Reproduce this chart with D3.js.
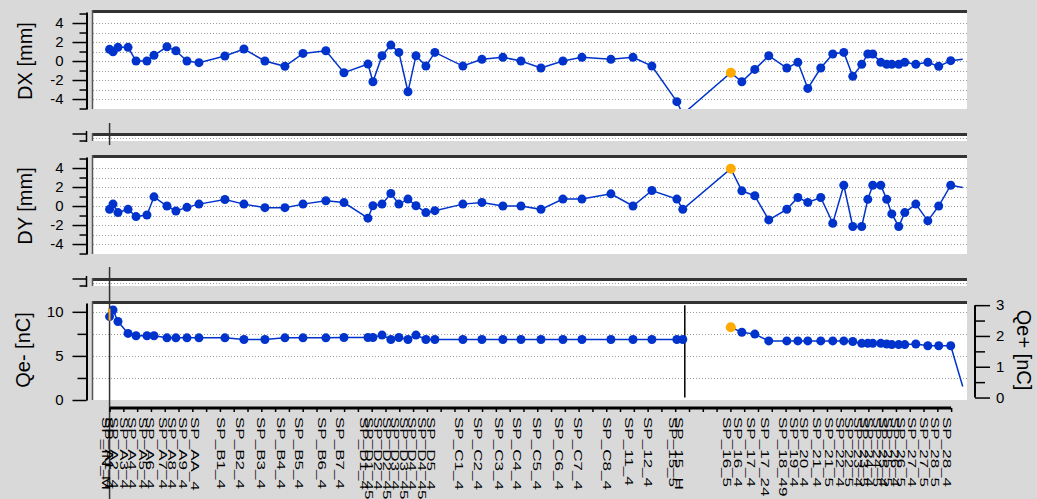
<!DOCTYPE html>
<html>
<head>
<meta charset="utf-8">
<script src="https://cdn.jsdelivr.net/npm/d3@7"></script>
<style>
  html, body { margin: 0; padding: 0; background: #d9d9d9; }
  svg { display: block; font-family: "Liberation Sans", Arial, sans-serif; }
</style>
</head>
<body>
<svg id="chart" width="1037" height="499"></svg>
<script>
// ---- data -------------------------------------------------------------
// position of each sample along the line (axis units)
const positions = [
  0.00, 0.25, 0.61, 1.34, 1.92, 2.71, 3.22, 4.16, 4.81, 5.61, 6.48,
  8.36, 9.74, 11.26, 12.71, 14.02, 15.68, 16.99,
  18.73, 19.09, 19.75, 20.39, 20.97, 21.63, 22.21, 22.93, 23.58,
  25.61, 26.99, 28.51, 29.82, 31.27, 32.86, 34.24, 36.34, 37.94, 39.31, 41.12, 41.55,
  45.03, 45.83, 46.77, 47.78, 49.09, 49.89, 50.61, 51.55, 52.42, 53.22, 53.87, 54.52,
  54.96, 55.32, 55.90, 56.33, 56.70, 57.20, 57.64, 58.44, 59.31, 60.10, 60.97, 61.84
];
const sampleLabels = [
  "SP_IN_M", "SP_A1_4", "SP_A2_4", "SP_A3_4", "SP_A4_4", "SP_A5_4", "SP_A6_4", "SP_A7_4", "SP_A8_4", "SP_A9_4", "SP_AA_4",
  "SP_B1_4", "SP_B2_4", "SP_B3_4", "SP_B4_4", "SP_B5_4", "SP_B6_4", "SP_B7_4",
  "SP_D1_4", "SP_D1_45", "SP_D2_4", "SP_D2_45", "SP_D3_4", "SP_D3_45", "SP_D4_4", "SP_D4_45", "SP_D5_4",
  "SP_C1_4", "SP_C2_4", "SP_C3_4", "SP_C4_4", "SP_C5_4", "SP_C6_4", "SP_C7_4", "SP_C8_4", "SP_11_4", "SP_12_4", "SP_15_5", "SP_15_H",
  "SP_16_5", "SP_16_4", "SP_17_4", "SP_17_24", "SP_18_49", "SP_19_4", "SP_20_4", "SP_21_4", "SP_21_5", "SP_22_4", "SP_22_5", "SP_23_4",
  "SP_23_5", "SP_24_4", "SP_24_5", "SP_25_4", "SP_25_5", "SP_26_4", "SP_26_5", "SP_27_4", "SP_27_5", "SP_28_5", "SP_28_4", ""
];
// horizontal offset [mm]
const dxValues = [
  1.23, 0.98, 1.44, 1.44, 0.0, 0.0, 0.6, 1.5, 1.08, 0.0, -0.17,
  0.53, 1.26, 0.0, -0.56, 0.8, 1.08, -1.23,
  -0.32, -2.18, 0.56, 1.68, 0.91, -3.23, 0.56, -0.53, 0.91,
  -0.53, 0.18, 0.39, 0.0, -0.74, 0.0, 0.39, 0.18, 0.39, -0.53, -4.28, -5.6,
  -1.23, -2.18, -0.88, 0.56, -0.74, -0.14, -2.88, -0.74, 0.74, 0.91, -1.61, -0.35,
  0.74, 0.74, -0.14, -0.35, -0.35, -0.35, -0.14, -0.35, -0.14, -0.56, 0.04, 0.18
];
// vertical offset [mm]
const dyValues = [
  -0.35, 0.2, -0.69, -0.35, -1.11, -0.94, 0.97, 0.0, -0.52, -0.14, 0.2,
  0.69, 0.2, -0.17, -0.17, 0.2, 0.56, 0.36,
  -1.28, 0.03, 0.2, 1.32, 0.2, 0.73, 0.03, -0.69, -0.49,
  0.2, 0.38, 0.0, 0.0, -0.35, 0.73, 0.73, 1.28, 0.0, 1.63, 0.73, -0.35,
  3.92, 1.6, 1.08, -1.46, -0.35, 0.9, 0.38, 0.9, -1.81, 2.19, -2.15, -2.15,
  0.7, 2.19, 2.19, 0.7, -0.83, -2.15, -0.69, 0.2, -1.56, 0.0, 2.19, 1.95
];
// electron charge [nC] (first 39 samples)
const qeNegValues = [
  9.46, 10.2, 8.9, 7.55, 7.28, 7.28, 7.28, 7.05, 7.05, 7.05, 7.05,
  7.05, 6.86, 6.86, 7.05, 7.05, 7.05, 7.09,
  7.09, 7.09, 7.36, 6.86, 7.09, 6.86, 7.36, 6.86, 6.86,
  6.86, 6.86, 6.86, 6.86, 6.86, 6.86, 6.86, 6.86, 6.86, 6.86, 6.86, 6.86
];
// positron charge [nC] (remaining 24 samples)
const qePosValues = [
  2.28, 2.12, 2.06, 1.84, 1.84, 1.84, 1.84, 1.84, 1.84, 1.84, 1.82, 1.76,
  1.76, 1.76, 1.76, 1.74, 1.72, 1.72, 1.72, 1.74, 1.68, 1.68, 1.68, 0.36
];
const selectedIndex = 39;           // highlighted sample
const dTicksMajor = [-4, -2, 0, 2, 4];
const dTicksMinor = [-5, -3, -1, 1, 3, 5];
const dGrid = [-4, -3, -2, -1, 0, 1, 2, 3, 4];
const qnTicksMajor = [0, 5, 10];
const qnTicksMinor = [2.5, 7.5];
const qpTicksMajor = [0, 1, 2, 3];
const qpTicksMinor = [0.5, 1.5, 2.5];
const qGrid = [2.5, 5, 7.5, 10];

// ---- layout -----------------------------------------------------------
const svg = d3.select("#chart");
const plotLeft = 93, plotRight = 967, axisX = 86.5;
const BLUE = "#0033cc", ORANGE = "#ffaa00", FRAME = "#333";

const x = d3.scaleLinear().domain([-1.2, 62.15]).range([plotLeft, plotRight]);
const yDX = d3.scaleLinear().domain([-5.05, 5.16]).range([109, 12]);
const yDY = d3.scaleLinear().domain([-5.05, 5.16]).range([254, 157]);
const yQn = d3.scaleLinear().domain([0, 11]).range([400, 303]);
const yQp = d3.scaleLinear().domain([-0.08, 3.07]).range([400, 303]);

const nNeg = qeNegValues.length;
const lastIndex = positions.length - 1;

function panelFrame(top, bottom, id) {
  svg.append("rect").attr("x", plotLeft).attr("y", top)
    .attr("width", plotRight - plotLeft).attr("height", bottom - top).attr("fill", "#fff");
  svg.append("clipPath").attr("id", id).append("rect")
    .attr("x", plotLeft).attr("y", top).attr("width", plotRight - plotLeft).attr("height", bottom - top);
}
function panelBorder(top, bottom) {
  svg.append("line").attr("x1", plotLeft - 1).attr("x2", plotRight).attr("y1", top - 0.5).attr("y2", top - 0.5)
    .attr("stroke", FRAME).attr("stroke-width", 3);
  svg.append("line").attr("x1", plotLeft - 0.5).attr("x2", plotLeft - 0.5).attr("y1", top - 2).attr("y2", bottom)
    .attr("stroke", "#555").attr("stroke-width", 1.5);
}
function gridLines(scale, values) {
  svg.append("g").selectAll("line").data(values).join("line")
    .attr("x1", plotLeft).attr("x2", plotRight)
    .attr("y1", d => Math.round(scale(d)) + 0.5).attr("y2", d => Math.round(scale(d)) + 0.5)
    .attr("stroke", "#9a9a9a").attr("stroke-dasharray", "1,2");
}
function styleAxis(g) {
  g.selectAll("path.domain").attr("stroke", "#000").attr("stroke-width", 2);
  g.selectAll(".tick line").attr("stroke", "#000").attr("stroke-width", 1.5);
  g.selectAll("text").attr("font-size", 15).attr("fill", "#000")
    .attr("font-family", "'Liberation Sans', Arial, sans-serif");
}
function leftAxis(scale, major, minor, majorLen, minorLen) {
  const g = svg.append("g").attr("transform", `translate(${axisX},0)`);
  g.call(d3.axisLeft(scale).tickValues(major).tickSize(majorLen).tickSizeOuter(0)
      .tickPadding(9).tickFormat(d => String(d)));
  g.append("g").call(d3.axisLeft(scale).tickValues(minor).tickSize(minorLen).tickFormat(""))
    .select("path.domain").remove();
  styleAxis(g);
  return g;
}
function series(clipId, xs, ys, yScale) {
  const g = svg.append("g").attr("clip-path", `url(#${clipId})`);
  const pts = xs.map((p, i) => ({ p, v: ys[i], i }));
  g.append("path").datum(pts)
    .attr("d", d3.line().x(d => x(d.p)).y(d => yScale(d.v)))
    .attr("fill", "none").attr("stroke", BLUE).attr("stroke-width", 1.5);
  return { g, pts };
}
function markers(g, pts, yScale, skip) {
  g.selectAll("circle").data(pts.filter(d => !skip(d))).join("circle")
    .attr("cx", d => x(d.p)).attr("cy", d => yScale(d.v))
    .attr("r", d => d.gi === selectedIndex ? 5 : 4.5)
    .attr("fill", d => d.gi === selectedIndex ? ORANGE : BLUE);
}
function yTitle(text, cx, cy, angle) {
  svg.append("text").attr("transform", `translate(${cx},${cy}) rotate(${angle})`)
    .attr("text-anchor", "middle").attr("dominant-baseline", "central")
    .attr("font-size", 20).attr("fill", "#000").text(text);
}

// ---- DX / DY panels ---------------------------------------------------
[["dx", yDX, dxValues, "DX [mm]"], ["dy", yDY, dyValues, "DY [mm]"]].forEach(([id, ys, vals, title]) => {
  const [b, t] = ys.range();
  panelFrame(t, b, "clip-" + id);
  gridLines(ys, dGrid);
  const s = series("clip-" + id, positions, vals, ys);
  s.pts.forEach(d => d.gi = d.i);
  markers(s.g, s.pts, ys, d => d.gi === lastIndex);
  panelBorder(t, b);
  leftAxis(ys, dTicksMajor, dTicksMinor, 14, 7);
  yTitle(title, 25, ys(0), -90);
});

// ---- thin separator strips --------------------------------------------
[[135, 141], [280, 286]].forEach(([t, b]) => {
  svg.append("rect").attr("x", plotLeft).attr("y", t).attr("width", plotRight - plotLeft)
    .attr("height", b - t).attr("fill", "#fff");
  svg.append("line").attr("x1", plotLeft).attr("x2", plotRight).attr("y1", t + 3.5).attr("y2", t + 3.5)
    .attr("stroke", "#9a9a9a").attr("stroke-dasharray", "1,2");
  panelBorder(t, b);
  svg.append("path").attr("d", `M${axisX},${t - 4}V${b + 1}M${axisX - 14},${t - 1}H${axisX}M${axisX - 7},${b}H${axisX}`)
    .attr("stroke", "#000").attr("stroke-width", 1.5).attr("fill", "none");
});

// ---- charge panel -----------------------------------------------------
{
  const [b, t] = yQn.range();
  panelFrame(t, b, "clip-q");
  gridLines(yQn, qGrid);

  // separator between the two beam sections
  const sepX = (x(positions[nNeg - 1]) + x(positions[nNeg])) / 2 - 22;
  svg.append("line").attr("x1", sepX).attr("x2", sepX).attr("y1", yQp(3)).attr("y2", yQp(0))
    .attr("stroke", "#000").attr("stroke-width", 1.5);

  const neg = series("clip-q", positions.slice(0, nNeg), qeNegValues, yQn);
  neg.pts.forEach(d => d.gi = d.i);
  markers(neg.g, neg.pts, yQn, d => false);
  const pos = series("clip-q", positions.slice(nNeg), qePosValues, yQp);
  pos.pts.forEach(d => d.gi = d.i + nNeg);
  markers(pos.g, pos.pts, yQp, d => d.gi === lastIndex);

  panelBorder(t, b);
  leftAxis(yQn, qnTicksMajor, qnTicksMinor, 14, 9);

  const r = svg.append("g").attr("transform", "translate(975,0)");
  r.call(d3.axisRight(yQp).tickValues(qpTicksMajor).tickSize(15).tickPadding(6)
      .tickFormat(d => String(d)));
  r.select("path.domain").remove();
  r.append("line").attr("x1", 0).attr("x2", 0).attr("y1", yQp(3)).attr("y2", yQp(0))
    .attr("stroke", "#000").attr("stroke-width", 2);
  r.append("g").call(d3.axisRight(yQp).tickValues(qpTicksMinor).tickSize(10).tickFormat(""))
    .select("path.domain").remove();
  styleAxis(r);

  yTitle("Qe- [nC]", 23, 350, -90);
  yTitle("Qe+ [nC]", 1024, 350, 90);
}

// ---- cursor -----------------------------------------------------------
const cursorX = x(positions[0]);
svg.append("path").attr("d", `M${cursorX},123V145M${cursorX},267V499`)
  .attr("stroke", "#333").attr("stroke-width", 1.5);
svg.append("line").attr("x1", cursorX).attr("x2", cursorX)
  .attr("y1", yQn(qeNegValues[0]) - 8).attr("y2", yQn(qeNegValues[0]) + 4)
  .attr("stroke", ORANGE).attr("stroke-width", 2);

// ---- sample axis ------------------------------------------------------
const axisY = 408;
const xa = svg.append("g").attr("transform", `translate(0,${axisY})`);
xa.call(d3.axisBottom(x).tickValues(d3.range(0, 62)).tickSize(4).tickFormat(""));
xa.select("path.domain").remove();
xa.selectAll(".tick line").attr("stroke", "#000").attr("stroke-width", 1.5);
xa.append("line").attr("x1", x(0)).attr("x2", x(61)).attr("y1", 0).attr("y2", 0)
  .attr("stroke", "#000").attr("stroke-width", 3);

svg.append("g").selectAll("text")
  .data(positions.map((p, i) => ({ p, label: sampleLabels[i] })).filter(d => d.label))
  .join("text")
  .attr("transform", d => `translate(${x(d.p) - 4},${axisY + 9}) rotate(90) scale(1.55,1)`)
  .attr("dy", "0.35em").attr("font-size", 11).attr("fill", "#000")
  .text(d => d.label);
</script>
</body>
</html>
